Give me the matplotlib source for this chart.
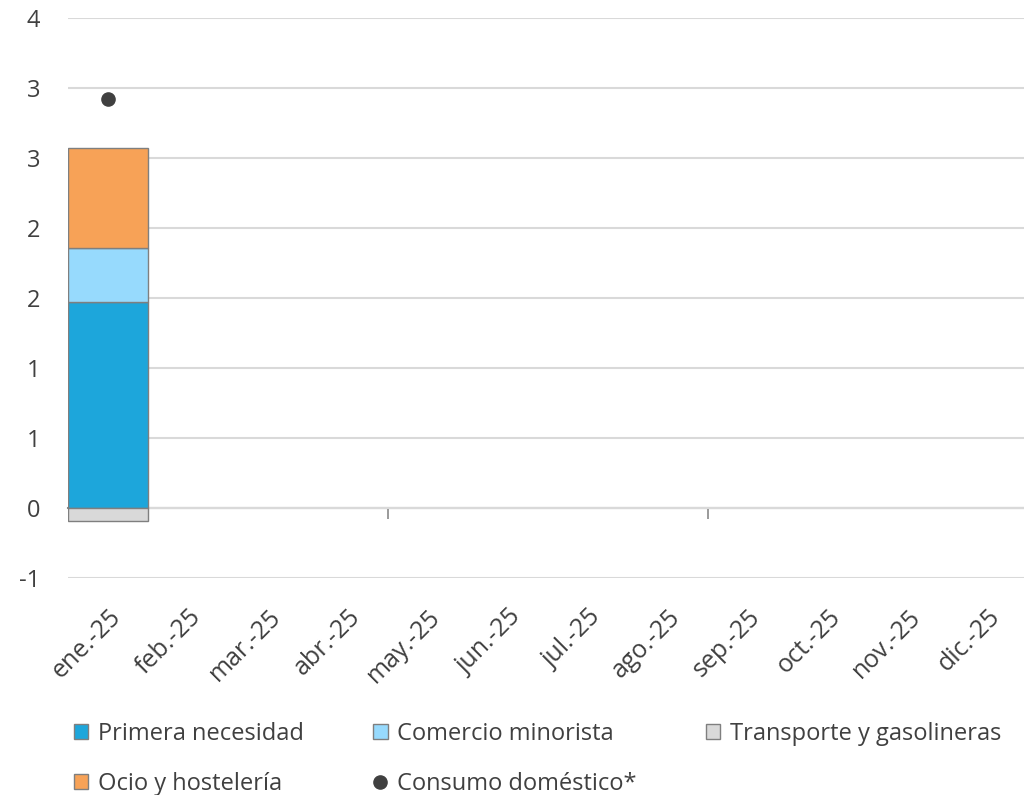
import math
import numpy as np
import matplotlib
matplotlib.use('Agg')
import matplotlib.pyplot as plt
from matplotlib.ticker import FuncFormatter

plt.rcParams['font.family'] = ['Open Sans', 'DejaVu Sans']

meses = ['ene.-25', 'feb.-25', 'mar.-25', 'abr.-25', 'may.-25', 'jun.-25',
         'jul.-25', 'ago.-25', 'sep.-25', 'oct.-25', 'nov.-25', 'dic.-25']
nan = np.nan
primera = [1.47] + [nan] * 11
comercio = [0.39] + [nan] * 11
transporte = [-0.09] + [nan] * 11
ocio = [0.71] + [nan] * 11
consumo = [2.92] + [nan] * 11

x = np.arange(len(meses))
primera = np.array(primera)
comercio = np.array(comercio)
transporte = np.array(transporte)
ocio = np.array(ocio)

fig = plt.figure(figsize=(10.24, 7.95), dpi=100)
ax = fig.add_axes([68 / 1024, 1 - 578 / 795, 960 / 1024, 560 / 795])

edge = '#7f7f7f'
b1 = ax.bar(x, primera, width=1.0, color='#1DA6DB', edgecolor=edge, linewidth=1, zorder=3)
b2 = ax.bar(x, comercio, width=1.0, bottom=primera, color='#97DAFD', edgecolor=edge, linewidth=1, zorder=3)
b3 = ax.bar(x, transporte, width=1.0, color='#D9D9D9', edgecolor=edge, linewidth=1, zorder=3)
b4 = ax.bar(x, ocio, width=1.0, bottom=primera + comercio, color='#F7A257', edgecolor=edge, linewidth=1, zorder=3)
pt, = ax.plot(x, consumo, 'o', color='#404040', markersize=9.5, zorder=4, linestyle='none')

ax.set_xlim(-0.5, 11.5)
ax.set_ylim(-0.5, 3.5)
ax.set_yticks(np.arange(-0.5, 3.51, 0.5))


def fmt(v, pos):
    r = math.floor(abs(v) + 0.5 + 1e-9)
    if v < 0 and r != 0:
        return '-%d' % r
    return '%d' % r


ax.yaxis.set_major_formatter(FuncFormatter(fmt))
ax.grid(axis='y', color='#D9D9D9', linewidth=1.5, zorder=0)
for s in ['left', 'right', 'top', 'bottom']:
    ax.spines[s].set_visible(False)
ax.tick_params(axis='y', length=0, pad=20, labelsize=17, labelcolor='#404040')

ax.set_xticks(x)
ax.set_xticklabels(meses, rotation=45, ha='right', rotation_mode='anchor')
ax.tick_params(axis='x', length=0, pad=19, labelsize=18, labelcolor='#404040')

# eje en y=0 con marcas cada 4 meses
sec = ax.secondary_xaxis(0.125)
sec.set_xticks([3.5, 7.5])
sec.set_xticklabels(['', ''])
sec.spines['bottom'].set_color('#898989')
sec.spines['bottom'].set_linewidth(1.5)
sec.tick_params(axis='x', length=8, width=1.2, color='#898989', direction='out')

handles = [b1, b4, b2, pt, b3]
labels = ['Primera necesidad', 'Ocio y hostelería', 'Comercio minorista',
          'Consumo doméstico*', 'Transporte y gasolineras']
leg = fig.legend(handles, labels, loc='upper left', bbox_to_anchor=(53 / 1024, 1 - 701 / 795),
                 ncol=3, frameon=False, fontsize=17, handlelength=0.6, handleheight=0.6,
                 handletextpad=0.4, columnspacing=2.95, labelspacing=1.1, labelcolor='#404040')

fig.savefig('out.png', dpi=100)
